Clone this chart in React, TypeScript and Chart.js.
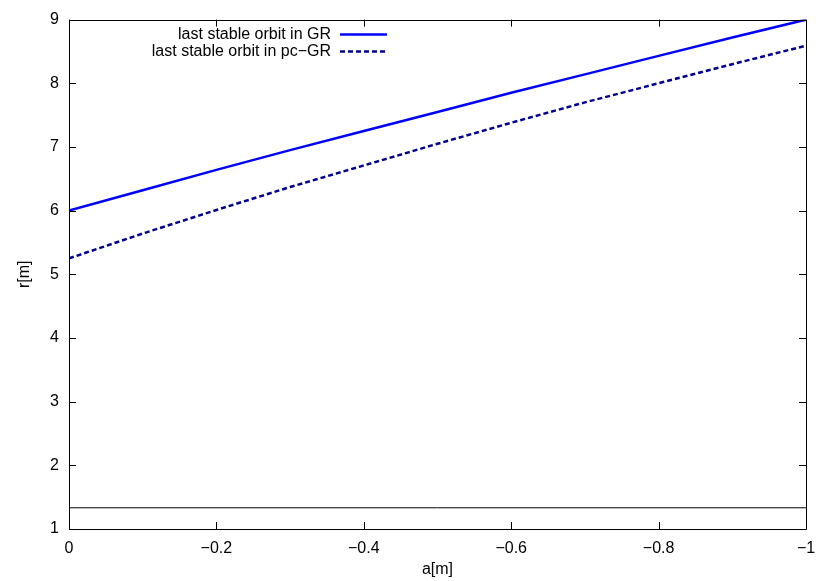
import React, { useEffect, useRef } from "react";
import { Chart, registerables } from "chart.js";

Chart.register(...registerables);

// spin parameter a[m]
const aValues = [0, -0.1, -0.2, -0.3, -0.4, -0.5, -0.6, -0.7, -0.8, -0.9, -1];
// last stable orbit in GR
const grValues = [6.0, 6.32, 6.64, 6.95, 7.25, 7.55, 7.85, 8.14, 8.43, 8.72, 9.0];
// last stable orbit in pc-GR
const pcgrValues = [5.25, 5.64, 6.01, 6.37, 6.71, 7.05, 7.38, 7.7, 8.0, 8.3, 8.59];
// horizontal reference line
const limitA = [0, -1];
const limitR = [1.333, 1.333];

const xTicks = [0, -0.2, -0.4, -0.6, -0.8, -1];
const yTicks = [1, 2, 3, 4, 5, 6, 7, 8, 9];
const seriesLabels = ["last stable orbit in GR", "last stable orbit in pc\u2212GR"];

const FONT = "'Liberation Sans', Arial, Helvetica, sans-serif";
const FS = 16;

const fmt = (v: number) => {
  if (Math.abs(v) < 1e-9) return "0";
  const s = Math.abs(v).toString();
  return (v < 0 ? "\u2212" : "") + s;
};

const framePlugin = {
  id: "gnuFrame",
  afterDraw(chart: any) {
    const { ctx, chartArea } = chart;
    const { left, right, top, bottom } = chartArea;
    const xs = chart.scales.x;
    const ys = chart.scales.y;
    ctx.save();
    ctx.strokeStyle = "#000";
    ctx.lineWidth = 1;
    ctx.beginPath();
    ctx.rect(Math.round(left) + 0.5, Math.round(top) + 0.5, Math.round(right - left), Math.round(bottom - top));
    ctx.stroke();
    const TL = 7;
    ctx.beginPath();
    for (const t of xTicks) {
      const px = Math.round(xs.getPixelForValue(t)) + 0.5;
      ctx.moveTo(px, bottom);
      ctx.lineTo(px, bottom - TL);
      ctx.moveTo(px, top);
      ctx.lineTo(px, top + TL);
    }
    for (const t of yTicks) {
      const py = Math.round(ys.getPixelForValue(t)) + 0.5;
      ctx.moveTo(left, py);
      ctx.lineTo(left + TL, py);
      ctx.moveTo(right, py);
      ctx.lineTo(right - TL, py);
    }
    ctx.stroke();

    // gnuplot-style key
    ctx.font = `${FS}px ${FONT}`;
    ctx.textAlign = "right";
    ctx.textBaseline = "middle";
    const textRight = left + 262;
    const sampleL = left + 271;
    const sampleR = left + 318;
    [0, 1].forEach((i) => {
      const ds = chart.data.datasets[i];
      const y = top + 15 + i * 17;
      ctx.fillStyle = "#000";
      ctx.fillText(ds.label, textRight, y);
      ctx.strokeStyle = ds.borderColor;
      ctx.lineWidth = ds.borderWidth;
      ctx.setLineDash(ds.borderDash || []);
      ctx.beginPath();
      ctx.moveTo(sampleL, y);
      ctx.lineTo(sampleR, y);
      ctx.stroke();
      ctx.setLineDash([]);
    });
    ctx.restore();
  },
};

export default function App() {
  const ref = useRef<HTMLCanvasElement | null>(null);
  useEffect(() => {
    if (!ref.current) return;
    const chart = new Chart(ref.current, {
      type: "line",
      data: {
        datasets: [
          {
            label: seriesLabels[0],
            data: aValues.map((a, i) => ({ x: a, y: grValues[i] })),
            borderColor: "#0000ff",
            borderWidth: 2.5,
            pointRadius: 0,
            tension: 0,
            fill: false,
          },
          {
            label: seriesLabels[1],
            data: aValues.map((a, i) => ({ x: a, y: pcgrValues[i] })),
            borderColor: "#00008b",
            borderWidth: 2.5,
            borderDash: [5, 3],
            pointRadius: 0,
            tension: 0,
            fill: false,
          },
          {
            label: "",
            data: limitA.map((a, i) => ({ x: a, y: limitR[i] })),
            borderColor: "#000000",
            borderWidth: 1,
            pointRadius: 0,
            fill: false,
          },
        ],
      },
      options: {
        animation: false,
        responsive: false,
        devicePixelRatio: 1,
        layout: { padding: { left: 0, right: 24, top: 19, bottom: 0 } },
        plugins: {
          legend: { display: false },
          tooltip: { enabled: false },
        },
        scales: {
          x: {
            type: "linear",
            reverse: true,
            min: -1,
            max: 0,
            grid: { display: false, drawTicks: false, tickLength: 0 },
            border: { display: false },
            afterFit: (s: any) => {
              s.height = 52;
            },
            afterBuildTicks: (s: any) => {
              s.ticks = xTicks.map((v) => ({ value: v }));
            },
            ticks: {
              padding: 10,
              color: "#000",
              font: { family: FONT, size: FS },
              callback: (v: any) => fmt(Number(v)),
              maxRotation: 0,
            },
            title: {
              display: true,
              text: "a[m]",
              color: "#000",
              font: { family: FONT, size: FS },
              padding: { top: 0, bottom: 2 },
            },
          },
          y: {
            type: "linear",
            min: 1,
            max: 9,
            grid: { display: false, drawTicks: false, tickLength: 0 },
            border: { display: false },
            afterFit: (s: any) => {
              s.width = 69;
            },
            afterBuildTicks: (s: any) => {
              s.ticks = yTicks.map((v) => ({ value: v }));
            },
            ticks: {
              padding: 10,
              color: "#000",
              font: { family: FONT, size: FS },
              callback: (v: any) => fmt(Number(v)),
            },
            title: {
              display: true,
              text: "r[m]",
              color: "#000",
              font: { family: FONT, size: FS },
              padding: { top: 15, bottom: 0 },
            },
          },
        },
      },
      plugins: [framePlugin],
    });
    return () => chart.destroy();
  }, []);
  return (
    <div style={{ position: "fixed", left: 0, top: 0, width: 830, height: 581, background: "#fff" }}>
      <canvas ref={ref} width={830} height={581} />
    </div>
  );
}
